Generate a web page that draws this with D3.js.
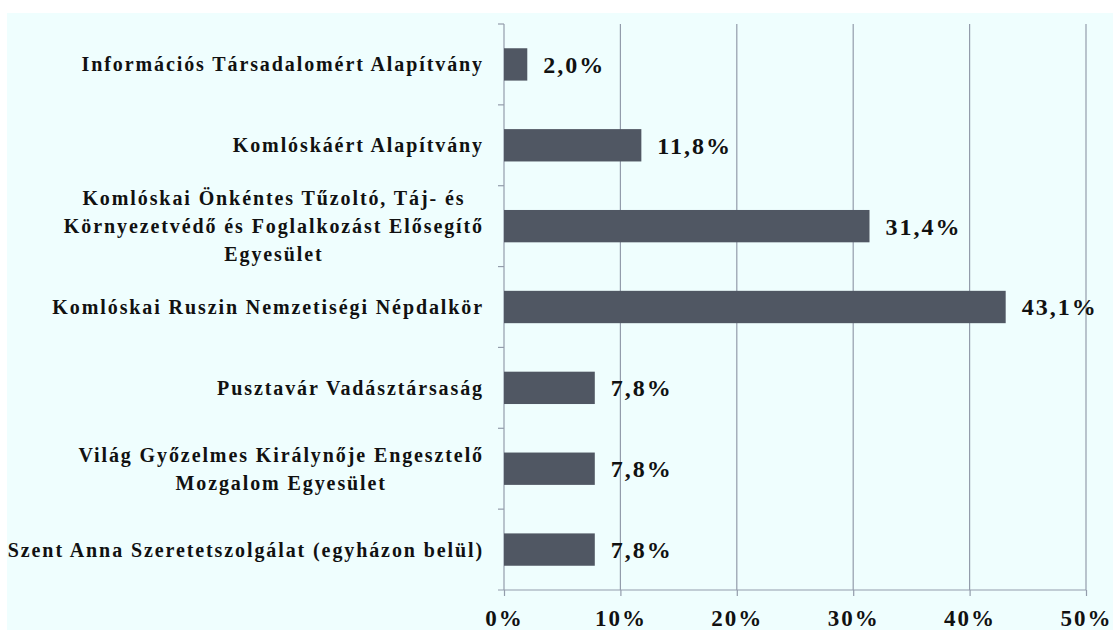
<!DOCTYPE html>
<html>
<head>
<meta charset="utf-8">
<script src="https://cdn.jsdelivr.net/npm/d3@7"></script>
<style>
  body { margin: 0; background: #fff; }
  svg text { font-weight: bold; fill: #111; }
</style>
</head>
<body>
<div id="plot"></div>
<script>
const width = 1113;
const height = 630;

// categories (\n = line break in label)
const categories = [
    "Információs Társadalomért Alapítvány",
    "Komlóskáért Alapítvány",
    "Komlóskai Önkéntes Tűzoltó, Táj- és\nKörnyezetvédő és Foglalkozást Elősegítő\nEgyesület",
    "Komlóskai Ruszin Nemzetiségi Népdalkör",
    "Pusztavár Vadásztársaság",
    "Világ Győzelmes Királynője Engesztelő\nMozgalom Egyesület",
    "Szent Anna Szeretetszolgálat (egyházon belül)"
];
const values = [2.0, 11.8, 31.4, 43.1, 7.8, 7.8, 7.8];
const xTicks = [0, 10, 20, 30, 40, 50];

const plot = { left: 504, right: 1086, top: 24, bottom: 590 };
const serif = "Liberation Serif";

var svg = d3.select("#plot").append("svg")
    .attr("width", width)
    .attr("height", height);

// background panel
svg.append("rect")
    .attr("x", 7).attr("y", 13)
    .attr("width", width - 7).attr("height", height - 13)
    .attr("fill", "#effefe");

const xScl = d3.scaleLinear().domain([0, 50]).range([plot.left, plot.right]);
const yScl = d3.scaleBand().domain(d3.range(categories.length))
    .range([plot.top, plot.bottom]).paddingInner(0.6).paddingOuter(0.3);

// vertical gridlines
svg.append("g")
    .selectAll("line")
    .data(xTicks.slice(1))
    .enter().append("line")
    .attr("x1", d => xScl(d)).attr("x2", d => xScl(d))
    .attr("y1", plot.top).attr("y2", plot.bottom)
    .attr("stroke", "#939cab").attr("stroke-width", 1.2);

// x axis
const xAxis = d3.axisBottom(xScl)
    .tickValues(xTicks)
    .tickSize(6)
    .tickFormat(d => d + "%");

const gx = svg.append("g")
    .attr("transform", "translate(0," + plot.bottom + ")")
    .call(xAxis)
    .attr("font-family", serif);
gx.select(".domain").attr("stroke", "#939cab").attr("stroke-width", 1.2)
    .attr("d", "M" + (plot.left - 6) + ",0H" + plot.right);
gx.selectAll(".tick line").attr("stroke", "#939cab").attr("stroke-width", 1.2);
gx.selectAll(".tick text")
    .attr("y", 20)
    .attr("dy", "0.71em")
    .attr("font-family", serif)
    .style("font-size", "23px")
    .style("letter-spacing", "2px")
    .attr("fill", "#111");

// y axis line + ticks at band boundaries
const yAxisG = svg.append("g");
yAxisG.append("line")
    .attr("x1", plot.left).attr("x2", plot.left)
    .attr("y1", plot.top).attr("y2", plot.bottom)
    .attr("stroke", "#939cab").attr("stroke-width", 1.2);
yAxisG.selectAll(".ytick")
    .data(d3.range(categories.length))
    .enter().append("line")
    .attr("x1", plot.left - 6).attr("x2", plot.left)
    .attr("y1", d => plot.top + d * (plot.bottom - plot.top) / categories.length)
    .attr("y2", d => plot.top + d * (plot.bottom - plot.top) / categories.length)
    .attr("stroke", "#939cab").attr("stroke-width", 1.2);

// bars
svg.selectAll(".bar")
    .data(values)
    .enter().append("rect")
    .attr("class", "bar")
    .attr("x", xScl(0))
    .attr("y", (d, i) => yScl(i))
    .attr("width", d => xScl(d) - xScl(0))
    .attr("height", yScl.bandwidth())
    .attr("fill", "#505763");

// value labels
svg.selectAll(".val")
    .data(values)
    .enter().append("text")
    .attr("class", "val")
    .attr("x", d => xScl(d) + 16)
    .attr("y", (d, i) => yScl(i) + yScl.bandwidth() / 2)
    .attr("dy", "0.35em")
    .attr("font-family", serif)
    .style("font-size", "24px")
    .style("letter-spacing", "2px")
    .text(d => d.toFixed(1).replace(".", ",") + "%");

// category labels
const labelRight = 484;
const lineH = 28;
categories.forEach(function (c, i) {
    const lines = c.split("\n");
    const cy = yScl(i) + yScl.bandwidth() / 2;
    const t = svg.append("text")
        .attr("class", "cat")
        .attr("font-family", serif)
        .style("font-size", "20px")
        .style("letter-spacing", "1.9px")
        .attr("text-anchor", "middle");
    lines.forEach(function (l, j) {
        t.append("tspan")
            .attr("x", 0)
            .attr("y", cy + (j - (lines.length - 1) / 2) * lineH)
            .attr("dy", "0.35em")
            .text(l);
    });
    // right-align block, center lines within block
    const w = t.node().getBBox().width;
    t.selectAll("tspan").attr("x", labelRight - w / 2);
});
</script>
</body>
</html>
